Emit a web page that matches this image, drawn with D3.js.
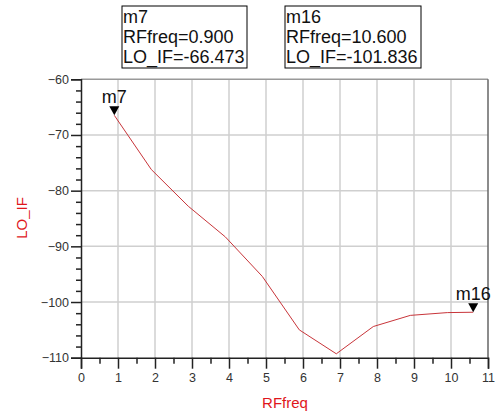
<!DOCTYPE html>
<html lang="en">
<head>
<meta charset="utf-8">
<title>LO_IF vs RFfreq</title>
<script src="https://cdn.jsdelivr.net/npm/d3@7"></script>
<style>
  body { margin: 0; background: #fff; }
  text { font-family: Arial, "Liberation Sans", sans-serif; }
</style>
</head>
<body>
<script>
var w = 499, h = 417;

// sweep data
var rfFreq = [0.9, 1.9, 2.9, 3.9, 4.9, 5.9, 6.9, 7.9, 8.9, 9.9, 10.6];
var loIf   = [-66.473, -76.2, -82.8, -88.3, -95.4, -105.0, -109.3, -104.4, -102.4, -101.9, -101.836];

var xTicks = [0, 1, 2, 3, 4, 5, 6, 7, 8, 9, 10, 11];
var yTicks = [-60, -70, -80, -90, -100, -110];

// markers
var markerNames = ["m7", "m16"];
var markerFreq  = [0.900, 10.600];
var markerVal   = [-66.473, -101.836];

var pLeft = 81, pRight = 488, pTop = 79.3, pBottom = 357.7;

var x = d3.scaleLinear().domain([0, 11]).range([pLeft, pRight]);
var y = d3.scaleLinear().domain([-110, -60]).range([pBottom, pTop]);

var svg = d3.select("body").append("svg")
    .attr("width", w).attr("height", h);

// grid
svg.selectAll("line.gx").data(xTicks.slice(1, -1)).enter().append("line")
    .attr("x1", d => x(d)).attr("x2", d => x(d))
    .attr("y1", pTop).attr("y2", pBottom)
    .attr("stroke", "#cfcfcf").attr("stroke-width", 1.5);
svg.selectAll("line.gy").data(yTicks.slice(1, -1)).enter().append("line")
    .attr("x1", pLeft).attr("x2", pRight)
    .attr("y1", d => y(d)).attr("y2", d => y(d))
    .attr("stroke", "#cfcfcf").attr("stroke-width", 1.5);

// frame top / right
svg.append("line").attr("x1", pLeft).attr("x2", pRight).attr("y1", pTop).attr("y2", pTop)
    .attr("stroke", "#999").attr("stroke-width", 1.5);
svg.append("line").attr("x1", pRight).attr("x2", pRight).attr("y1", pTop).attr("y2", pBottom)
    .attr("stroke", "#666").attr("stroke-width", 1.5);

// y axis
svg.append("g").attr("transform", "translate(" + pLeft + ",0)")
    .call(d3.axisLeft(y).tickValues(yTicks).tickSize(10).tickPadding(2));
svg.append("g").attr("transform", "translate(" + pLeft + ",0)")
    .call(d3.axisLeft(y).tickValues(d3.range(-110, -59, 2).filter(v => v % 10 != 0)).tickSize(5).tickFormat(""))
    .select(".domain").remove();

// x axis
svg.append("g").attr("transform", "translate(0," + pBottom + ")")
    .call(d3.axisBottom(x).tickValues(xTicks).tickSize(11).tickPadding(4));
svg.append("g").attr("transform", "translate(0," + pBottom + ")")
    .call(d3.axisBottom(x).tickValues(d3.range(0.5, 11, 1)).tickSize(6).tickFormat(""))
    .select(".domain").remove();

svg.selectAll(".tick line, .domain").attr("stroke", "#222").attr("stroke-width", 1.5);
svg.selectAll(".tick text").attr("font-size", "12.5px").attr("fill", "#333")
    .attr("font-family", "Arial, 'Liberation Sans', sans-serif");

// trace
var line = d3.line().x(d => x(d[0])).y(d => y(d[1]));
svg.append("path")
    .datum(rfFreq.map((f, i) => [f, loIf[i]]))
    .attr("d", line)
    .attr("fill", "none").attr("stroke", "#c8353a").attr("stroke-width", 1);

// marker triangles + names
markerNames.forEach(function(name, i) {
    var px = x(markerFreq[i]), py = y(markerVal[i]);
    svg.append("path")
        .attr("d", "M" + (px - 5) + "," + (py - 9) + "L" + (px + 5) + "," + (py - 9) + "L" + px + "," + py + "Z")
        .attr("fill", "#000");
    svg.append("text")
        .attr("x", px).attr("y", py - 12)
        .attr("text-anchor", "middle")
        .attr("font-size", "18px").attr("fill", "#111")
        .text(name);
});

// marker readout boxes
var boxX = [122, 285], boxW = [125, 136];
markerNames.forEach(function(name, i) {
    svg.append("rect").attr("x", boxX[i]).attr("y", 6)
        .attr("width", boxW[i]).attr("height", 62)
        .attr("fill", "#fff").attr("stroke", "#000").attr("stroke-width", 1);
    var lines = [name, "RFfreq=" + markerFreq[i].toFixed(3), "LO_IF=" + markerVal[i].toFixed(3)];
    svg.selectAll(null).data(lines).enter().append("text")
        .attr("x", boxX[i] + 1).attr("y", (d, j) => 23 + j * 20)
        .attr("font-size", "18px").attr("fill", "#111")
        .text(d => d);
});

// axis titles
svg.append("text").attr("x", 285).attr("y", 408)
    .attr("text-anchor", "middle").attr("font-size", "15px").attr("fill", "#e0161c")
    .text("RFfreq");
svg.append("text").attr("transform", "translate(27,218) rotate(-90)")
    .attr("text-anchor", "middle").attr("font-size", "15px").attr("fill", "#e0161c")
    .text("LO_IF");
</script>
</body>
</html>
